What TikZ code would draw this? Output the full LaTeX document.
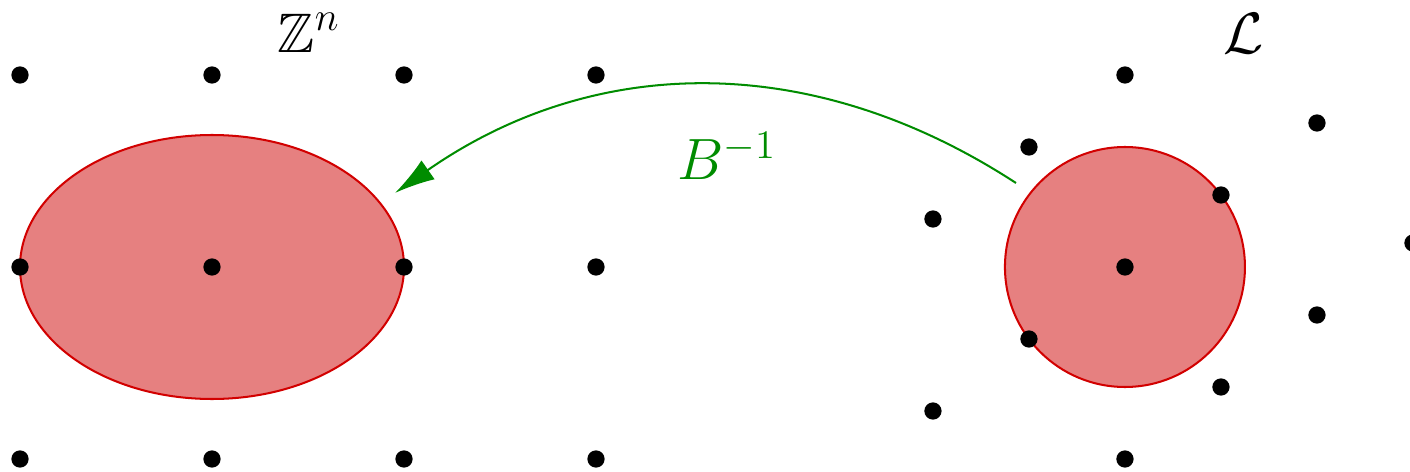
\documentclass[tikz,border=0pt]{standalone}
\usepackage{amssymb}
\usetikzlibrary{arrows.meta}
\definecolor{regfill}{RGB}{230,128,128}
\definecolor{regline}{RGB}{210,0,0}
\definecolor{mapgreen}{RGB}{0,140,0}
\tikzset{
  pt/.style={circle,fill=black,inner sep=0pt,minimum size=0.18cm},
  region/.style={draw=regline,fill=regfill,line width=0.6pt},
  lbl/.style={font=\fontsize{16.5}{20}\selectfont},
  maparrow/.style={draw=mapgreen,line width=0.6pt,-{Latex[length=4.2mm,width=2.4mm]}}
}
\begin{document}
\begin{tikzpicture}
\useasboundingbox (-0.2083,-2.1354) rectangle (14.4792,2.78125);
% regions
\draw[region] (2,0) ellipse [x radius=2, y radius=1.375];
\draw[region] (11.51,0) circle [radius=1.25];
% Z^n grid
\foreach \i in {0,1,2,3}{
  \foreach \j in {-1,0,1}{
    \node[pt] (z\i\j) at (2*\i,2*\j) {};
  }
}
% lattice L with basis b1=(1,0.75), b2=(1,-1.25)
\begin{scope}[shift={(11.51,0)}]
  \foreach \a/\b [count=\k] in {0/0, 1/0, -1/0, 0/1, 0/-1, 1/1, -1/-1, 1/-1, -1/1, 2/0, -2/0, 2/1}{
    \node[pt] (l\k) at ({\a+\b},{0.75*\a-1.25*\b}) {};
  }
\end{scope}
% labels
\node[lbl] (zn) at (3.01,2.44) {$\mathbb{Z}^n$};
\node[lbl] (ll) at (12.75,2.43) {$\mathcal{L}$};
% map arrow
\coordinate (as) at (10.375,0.875);
\coordinate (ae) at (3.906,0.771);
\draw[maparrow] (as) to[bend right=34] (ae);
\node[lbl,text=mapgreen] (binv) at (7.365,1.16) {$B^{-1}$};
\end{tikzpicture}
\end{document}
